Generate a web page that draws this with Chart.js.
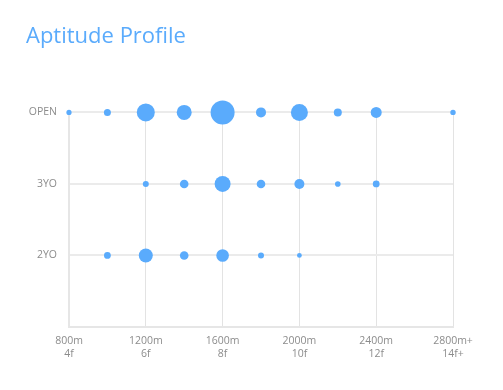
<!DOCTYPE html>
<html>
<head>
<meta charset="utf-8">
<script src="https://cdn.jsdelivr.net/npm/chart.js@4.4.0/dist/chart.umd.min.js"></script>
<style>
  html, body { margin: 0; padding: 0; background: #ffffff; }
  #wrap { width: 503px; height: 390px; }
</style>
</head>
<body>
<div id="wrap"><canvas id="c" width="503" height="390"></canvas></div>
<script>
// Categories (y axis, bottom to top)
const categories = ['2YO', '3YO', 'OPEN'];

// Distance tick labels (metres / furlongs)
const tickMetres = [800, 1200, 1600, 2000, 2400, 2800];
const tickMetreLabels = ['800m', '1200m', '1600m', '2000m', '2400m', '2800m+'];
const tickFurlongLabels = ['4f', '6f', '8f', '10f', '12f', '14f+'];

// Series: distances and bubble sizes per category
const openDistances = [800, 1000, 1200, 1400, 1600, 1800, 2000, 2200, 2400, 2800];
const openSizes     = [2.6, 3.5, 9, 7.5, 12, 5, 8.5, 4, 5.5, 2.7];

const threeYoDistances = [1200, 1400, 1600, 1800, 2000, 2200, 2400];
const threeYoSizes     = [3, 4.3, 8, 4.3, 5, 2.8, 3.4];

const twoYoDistances = [1000, 1200, 1400, 1600, 1800, 2000];
const twoYoSizes     = [3.4, 7, 4.3, 6.3, 3, 2.4];

const BLUE = '#5aabfc';
const FONT = '"Open Sans", "Noto Sans", sans-serif';

function points(dists, sizes, cat) {
  const y = categories.indexOf(cat) + 1;
  return dists.map((d, i) => ({ x: d, y: y, r: sizes[i] }));
}

new Chart(document.getElementById('c'), {
  type: 'bubble',
  data: {
    datasets: [
      { label: 'OPEN', data: points(openDistances, openSizes, 'OPEN') },
      { label: '3YO', data: points(threeYoDistances, threeYoSizes, '3YO') },
      { label: '2YO', data: points(twoYoDistances, twoYoSizes, '2YO') }
    ].map(ds => Object.assign(ds, {
      backgroundColor: BLUE, borderColor: BLUE, borderWidth: 0, hoverRadius: 0, clip: false
    }))
  },
  options: {
    responsive: false,
    animation: false,
    layout: { padding: { left: 26, right: 50, top: 0, bottom: 0 } },
    plugins: {
      legend: { display: false },
      tooltip: { enabled: false },
      title: {
        display: true,
        text: 'Aptitude Profile',
        align: 'start',
        color: BLUE,
        font: { family: FONT, size: 22, weight: 'normal' },
        padding: { top: 24, bottom: 62 }
      }
    },
    scales: {
      x: {
        type: 'linear',
        min: 800,
        max: 2800,
        afterFit: (s) => { s.height = 63; },
        ticks: {
          stepSize: 100,
          autoSkip: false,
          maxRotation: 0,
          padding: 8,
          color: '#8c8c8c',
          font: { family: FONT, size: 10.5 },
          callback: (v) => {
            const i = tickMetres.indexOf(v);
            return i >= 0 ? [tickMetreLabels[i], tickFurlongLabels[i]] : null;
          }
        },
        grid: {
          drawTicks: false,
          color: (ctx) => (ctx.tick && ctx.tick.value % 400 === 0) ? '#e3e3e3' : '#f4f4f4',
          lineWidth: 1
        },
        border: { color: '#e6e6e6', width: 2 }
      },
      y: {
        type: 'linear',
        min: 0,
        max: 3,
        afterFit: (s) => { s.width = 43; },
        ticks: {
          stepSize: 1,
          padding: 12,
          color: '#8c8c8c',
          font: { family: FONT, size: 10.5 },
          callback: (v) => (v >= 1 && v <= 3) ? categories[v - 1] : ''
        },
        grid: {
          drawTicks: false,
          color: '#ebebeb',
          lineWidth: 2
        },
        border: { color: '#e6e6e6', width: 2 }
      }
    }
  }
});
</script>
</body>
</html>
